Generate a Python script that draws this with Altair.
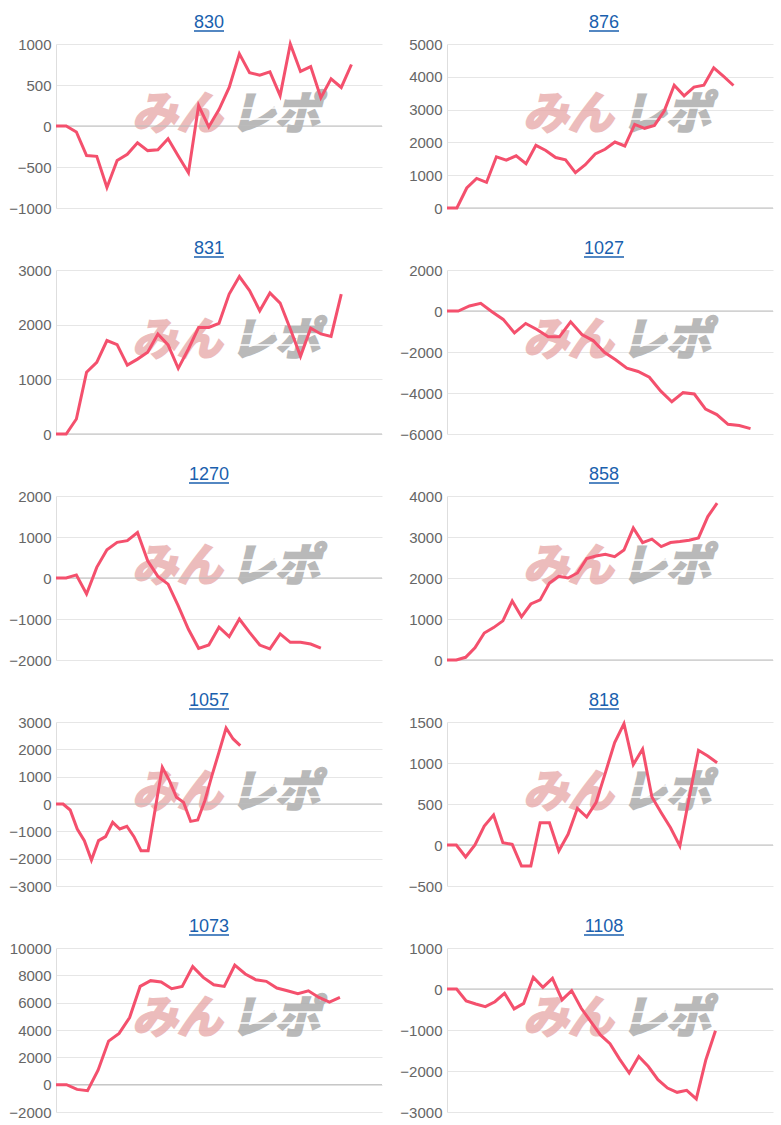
import altair as alt
import pandas as pd

# ---- data ----
titles_left = ["830", "831", "1270", "1057", "1073"]
titles_right = ["876", "1027", "858", "818", "1108"]

v830 = [0, 0, -73, -360, -370, -750, -420, -345, -205, -300, -290, -155, -365, -570, 250, -10,
        200, 470, 880, 650, 620, 660, 370, 1000, 665, 725, 345, 575, 470, 750]
v831 = [0, 0, 275, 1130, 1310, 1710, 1635, 1260, 1370, 1495, 1830, 1630, 1200, 1555, 1950, 1950,
        2025, 2560, 2880, 2625, 2255, 2580, 2395, 1920, 1420, 1935, 1830, 1785, 2560]
v1270 = [0, 0, 75, -390, 260, 690, 870, 910, 1110, 420, 40, -150, -680, -1250, -1715, -1635,
         -1200, -1430, -1000, -1325, -1635, -1730, -1365, -1570, -1570, -1610, -1710]
v1057 = [0, 0, -220, -915, -1340, -2050, -1340, -1195, -670, -915, -815, -1195, -1710, -1710,
         -185, 1340, 855, 245, 60, -635, -585, 120, 1035, 1900, 2780, 2380, 2135]
v1073 = [0, 0, -345, -440, 1055, 3190, 3755, 4910, 7190, 7610, 7510, 7020, 7190, 8640, 7850,
         7310, 7190, 8740, 8100, 7680, 7560, 7070, 6870, 6650, 6870, 6380, 6040, 6380]
v876 = [0, 0, 610, 900, 780, 1560, 1460, 1590, 1350, 1910, 1755, 1540, 1470, 1080, 1320, 1650,
        1790, 2010, 1890, 2550, 2430, 2520, 2960, 3745, 3420, 3685, 3745, 4275, 4010, 3735]
v1027 = [0, 0, 245, 377, -33, -410, -1066, -607, -900, -1262, -1262, -525, -1148, -1443, -2016,
         -2377, -2787, -2950, -3230, -3900, -4426, -3984, -4049, -4787, -5050, -5525, -5590, -5740]
v858 = [0, 0, 66, 296, 658, 790, 955, 1440, 1053, 1366, 1465, 1877, 2041, 2000, 2123, 2477,
        2535, 2576, 2519, 2683, 3218, 2864, 2947, 2765, 2864, 2889, 2922, 2979, 3498, 3827]
v818 = [0, 0, -146, 0, 232, 366, 28, 8, -256, -256, 272, 272, -73, 130, 447, 341, 516, 880,
        1250, 1480, 980, 1170, 585, 394, 211, -12, 577, 1155, 1085, 1004]
v1108 = [0, 0, -290, -365, -430, -310, -105, -485, -350, 285, 40, 260, -265, -40, -470, -795,
         -1120, -1335, -1710, -2050, -1645, -1890, -2210, -2415, -2520, -2470, -2680, -1725, -1020]

# last category index of each panel's x axis
xmax_left = [32, 32, 32, 46, 31]
xmax_right = [33, 29, 35, 35, 34]

# y axis ranges: (min, max, step)
yaxis_left = [(-1000, 1000, 500), (0, 3000, 1000), (-2000, 2000, 1000), (-3000, 3000, 1000), (-2000, 10000, 2000)]
yaxis_right = [(0, 5000, 1000), (-6000, 2000, 2000), (0, 4000, 1000), (-500, 1500, 500), (-3000, 1000, 1000)]

values_left = [v830, v831, v1270, v1057, v1073]
values_right = [v876, v1027, v858, v818, v1108]

LINE = "#f4506d"
TITLE = "#1a5fae"
W, H = 326, 164


def panel(name, vals, xmax, yax, title_x):
    lo, hi, step = yax
    ticks = list(range(lo, hi + 1, step))
    df = pd.DataFrame({"i": list(range(len(vals))), "v": vals})
    ysc = alt.Scale(domain=[lo, hi], nice=False, zero=False)
    xsc = alt.Scale(domain=[0, xmax], nice=False, zero=False)
    yaxis = alt.Axis(
        values=ticks, tickCount=len(ticks), title=None, format="d", grid=True,
        ticks=False, tickSize=0, labelPadding=5, domain=True, labelOverlap=False,
        domainColor="#dedede", gridColor="#e6e6e6", labelColor="#666666",
        labelFont="Liberation Sans", labelFontSize=15)
    one = pd.DataFrame({"t": [name]})

    wm1 = alt.Chart(one).mark_text(
        text="みん", font="Noto Sans CJK JP", fontSize=45, fontWeight="bold",
        fontStyle="italic", color="#e6a3a3", stroke="#e6a3a3", strokeWidth=2.5,
        opacity=0.72, baseline="middle", align="center"
    ).encode(x=alt.value(121), y=alt.value(71))
    wm2 = alt.Chart(one).mark_text(
        text="レポ", font="Noto Sans CJK JP", fontSize=45, fontWeight="bold",
        fontStyle="italic", color="#a8a8a8", stroke="#a8a8a8", strokeWidth=2.5,
        opacity=0.8, baseline="middle", align="center"
    ).encode(x=alt.value(219), y=alt.value(71))
    stripe1 = alt.Chart(one).mark_rule(color="white", strokeWidth=1.5).encode(
        x=alt.value(176), x2=alt.value(272), y=alt.value(64))
    stripe2 = alt.Chart(one).mark_rule(color="white", strokeWidth=1.5).encode(
        x=alt.value(176), x2=alt.value(272), y=alt.value(75))

    zero = alt.Chart(pd.DataFrame({"v": [0]})).mark_rule(color="#bdbdbd", strokeWidth=1).encode(
        y=alt.Y("v:Q", scale=ysc, axis=yaxis)
    )
    line = alt.Chart(df).mark_line(color=LINE, strokeWidth=3).encode(
        x=alt.X("i:Q", scale=xsc, axis=None),
        y=alt.Y("v:Q", scale=ysc, axis=yaxis),
    )
    ttl = alt.Chart(one).mark_text(
        font="Liberation Sans", fontSize=18, color=TITLE, baseline="alphabetic", align="center"
    ).encode(text="t:N", x=alt.value(title_x), y=alt.value(-16))
    half = len(name) * 5
    ul = alt.Chart(one).mark_rule(color=TITLE, strokeWidth=1.5).encode(
        x=alt.value(title_x - half), x2=alt.value(title_x + half), y=alt.value(-13)
    )
    return alt.layer(wm1, wm2, stripe1, stripe2, zero, line, ttl, ul).properties(width=W, height=H)


panels = []
for k in range(5):
    panels.append(panel(titles_left[k], values_left[k], xmax_left[k], yaxis_left[k], 153))
    panels.append(panel(titles_right[k], values_right[k], xmax_right[k], yaxis_right[k], 157))

chart = alt.concat(
    *panels, columns=2, spacing={"row": 62, "column": 65}, bounds="flush"
).properties(
    padding={"left": 8, "top": 14, "right": 0, "bottom": 0}
).configure_view(stroke=None)

chart.save("out.html", embed_options={"renderer": "svg", "actions": False})
